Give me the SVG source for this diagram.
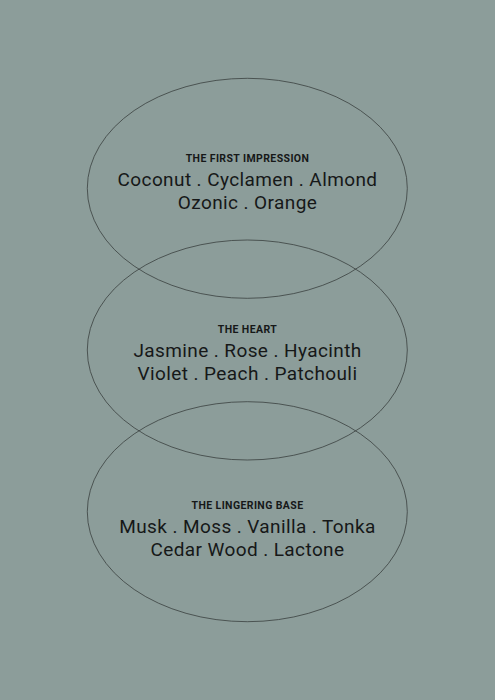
<svg xmlns="http://www.w3.org/2000/svg" width="495" height="700" viewBox="0 0 495 700">
<style>
.ring{fill:none;stroke:#3a403f;stroke-width:0.8}
.title{font-family:Roboto,"Liberation Sans",sans-serif;font-weight:700;font-size:10.5px;letter-spacing:0.4px;fill:#161818;text-anchor:middle}
.notes{font-family:Roboto,"Liberation Sans",sans-serif;font-size:19px;letter-spacing:0.4px;fill:#161818;text-anchor:middle}
</style>
<rect width="495" height="700" fill="#8c9d9a"/>
<g id="top">
<ellipse class="ring" cx="247.3" cy="188.3" rx="160" ry="110"/>
<text class="title" x="247.5" y="162">THE FIRST IMPRESSION</text>
<text class="notes" x="247.5" y="186">Coconut . Cyclamen . Almond</text>
<text class="notes" x="247.5" y="209.3">Ozonic . Orange</text>
</g>
<g id="heart">
<ellipse class="ring" cx="247.3" cy="350" rx="160" ry="110"/>
<text class="title" x="247.5" y="333.3">THE HEART</text>
<text class="notes" x="247.5" y="356.7">Jasmine . Rose . Hyacinth</text>
<text class="notes" x="247.5" y="380">Violet . Peach . Patchouli</text>
</g>
<g id="base">
<ellipse class="ring" cx="247.3" cy="511.7" rx="160" ry="110"/>
<text class="title" x="247.5" y="509">THE LINGERING BASE</text>
<text class="notes" x="247.5" y="532.7">Musk . Moss . Vanilla . Tonka</text>
<text class="notes" x="247.5" y="556">Cedar Wood . Lactone</text>
</g>
<g id="connectors"/>
</svg>
